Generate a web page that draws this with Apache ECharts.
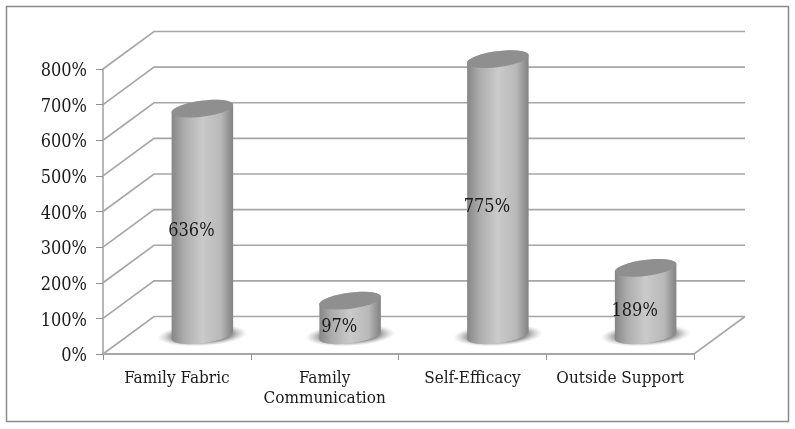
<!DOCTYPE html>
<html>
<head>
<meta charset="utf-8">
<style>html,body{margin:0;padding:0;background:#fff}#chart{width:795px;height:429px}</style>
<script src="https://cdn.jsdelivr.net/npm/echarts@6/dist/echarts.min.js"></script>
</head>
<body>
<div id="chart"></div>
<script>
var categories = ['Family Fabric', 'Family\nCommunication', 'Self-Efficacy', 'Outside Support'];
var values = [636, 97, 775, 189];
var yTicks = [0, 100, 200, 300, 400, 500, 600, 700, 800];

// fake 3d depth of the floor and walls, px
var depthX = 51;
var depthY = -37.5;
var labelFont = '"DejaVu Serif Condensed", "DejaVu Serif", serif';
var lineColor = '#a6a6a6';

function ellipsePts(cx, cy, rx, ry, from, to) {
  var tilt = -7.5 * Math.PI / 180;
  var pts = [];
  for (var i = 0; i <= 36; i++) {
    var t = from + (to - from) * i / 36;
    var ex = rx * Math.cos(t);
    var ey = ry * Math.sin(t);
    pts.push([cx + ex * Math.cos(tilt) - ey * Math.sin(tilt), cy + ex * Math.sin(tilt) + ey * Math.cos(tilt)]);
  }
  return pts;
}

function renderWall(params, api) {
  var sys = params.coordSys;
  var y = api.coord([0, api.value(1)])[1];
  var left = sys.x;
  var right = sys.x + sys.width;
  var style = { stroke: lineColor, lineWidth: 1.6, fill: null };
  var points = [[left, y], [left + depthX, y + depthY], [right + depthX, y + depthY]];
  var kids = [{ type: 'polyline', shape: { points: points }, style: style }];
  if (api.value(1) === 0) {
    kids.push({ type: 'polyline', shape: { points: [[left, y], [right, y], [right + depthX, y + depthY]] }, style: style });
  }
  return { type: 'group', children: kids };
}

function renderCylinder(params, api) {
  var idx = api.value(0);
  var val = api.value(1);
  var base = api.coord([idx, 0]);
  var top = api.coord([idx, val]);
  var mid = api.coord([idx, val / 2]);
  var bandw = api.size([1, 0])[0];
  var rx = bandw * 0.21;
  var ry = 8;
  var cx = base[0] + depthX / 2;
  var by = base[1] + depthY / 2;
  var ty = top[1] + depthY / 2;
  return {
    type: 'group',
    children: [
      {
        type: 'circle',
        x: cx, y: by,
        scaleY: 0.24,
        rotation: 3 * Math.PI / 180,
        shape: { cx: 0, cy: 0, r: rx * 1.45 },
        style: {
          fill: {
            type: 'radial', x: 0.5, y: 0.5, r: 0.5,
            colorStops: [
              { offset: 0, color: 'rgba(125,125,125,1)' },
              { offset: 0.65, color: 'rgba(130,130,130,0.9)' },
              { offset: 1, color: 'rgba(190,190,190,0)' }
            ]
          }
        }
      },
      {
        type: 'polygon',
        shape: { points: ellipsePts(cx, by, rx, ry, 0, Math.PI).concat(ellipsePts(cx, ty, rx, ry, Math.PI, 2 * Math.PI)) },
        style: {
          fill: {
            type: 'linear', x: 0, y: 0, x2: 1, y2: 0,
            colorStops: [
              { offset: 0, color: '#868686' },
              { offset: 0.2, color: '#acacac' },
              { offset: 0.5, color: '#cacaca' },
              { offset: 0.8, color: '#b8b8b8' },
              { offset: 0.95, color: '#8e8e8e' },
              { offset: 1, color: '#848484' }
            ]
          }
        }
      },
      {
        type: 'polygon',
        shape: { points: ellipsePts(cx, ty, rx, ry, 0, 2 * Math.PI) },
        style: { fill: '#8f8f8f' }
      },
      {
        type: 'text',
        x: mid[0] + 14.5,
        y: mid[1] - 9,
        style: {
          text: val + '%',
          font: '18px ' + labelFont,
          fill: '#1a1a1a',
          textAlign: 'center',
          textVerticalAlign: 'middle'
        }
      }
    ]
  };
}

var chart = echarts.init(document.getElementById('chart'));
chart.setOption({
  backgroundColor: '#fff',
  animation: false,
  graphic: [{
    type: 'rect',
    shape: { x: 6.5, y: 6.5, width: 782, height: 415 },
    style: { fill: 'none', stroke: '#8a8a8a', lineWidth: 1.5 }
  }],
  grid: { left: 103, right: 101, top: 69, bottom: 75 },
  xAxis: {
    type: 'category',
    data: categories,
    axisLine: { lineStyle: { color: lineColor, width: 2 } },
    axisTick: { show: true, length: 6, alignWithLabel: false, lineStyle: { color: '#8f8f8f', width: 1 } },
    axisLabel: { interval: 0, margin: 15, fontFamily: labelFont, fontSize: 17, lineHeight: 20, color: '#1a1a1a' }
  },
  yAxis: {
    type: 'value',
    min: 0,
    max: 800,
    interval: 100,
    splitLine: { show: false },
    axisLine: { show: true, lineStyle: { color: '#a0a0a0', width: 1.5 } },
    axisTick: { show: true, length: 7, lineStyle: { color: '#8f8f8f', width: 1 } },
    axisLabel: {
      margin: 16,
      formatter: '{t|{value}%}',
      rich: { t: { padding: [5, 0, 0, 0], fontFamily: labelFont, fontSize: 18, color: '#1a1a1a' } }
    }
  },
  series: [
    {
      type: 'custom',
      z: 1,
      renderItem: renderWall,
      data: yTicks.map(function (v) { return [0, v]; })
    },
    {
      type: 'custom',
      z: 3,
      renderItem: renderCylinder,
      data: values.map(function (v, i) { return [i, v]; })
    }
  ]
});
</script>
</body>
</html>
